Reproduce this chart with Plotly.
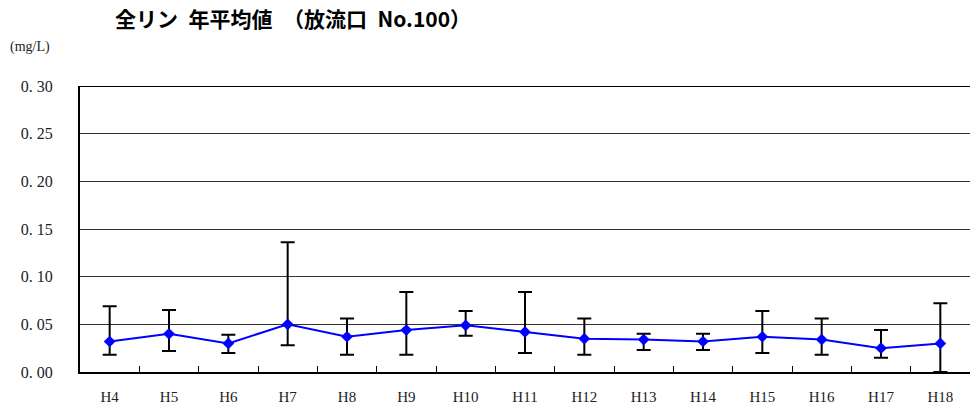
import plotly.graph_objects as go

years = ["H4", "H5", "H6", "H7", "H8", "H9", "H10", "H11", "H12", "H13", "H14", "H15", "H16", "H17", "H18"]
mean_vals = [0.032, 0.040, 0.030, 0.050, 0.037, 0.044, 0.049, 0.042, 0.035, 0.034, 0.032, 0.037, 0.034, 0.025, 0.030]
max_vals = [0.069, 0.065, 0.039, 0.136, 0.056, 0.084, 0.064, 0.084, 0.056, 0.040, 0.040, 0.064, 0.056, 0.044, 0.072]
min_vals = [0.018, 0.022, 0.020, 0.028, 0.018, 0.018, 0.038, 0.020, 0.018, 0.023, 0.023, 0.020, 0.018, 0.015, 0.000]
y_ticks = [0.00, 0.05, 0.10, 0.15, 0.20, 0.25, 0.30]
y_tick_labels = ["0.\u00a000", "0.\u00a005", "0.\u00a010", "0.\u00a015", "0.\u00a020", "0.\u00a025", "0.\u00a030"]

err_plus = [hi - m for hi, m in zip(max_vals, mean_vals)]
err_minus = [m - lo for m, lo in zip(mean_vals, min_vals)]

serif = "Liberation Serif"

W, H = 972, 412
ML, MR, MT, MB = 80, 2, 86, 40

fig = go.Figure()
fig.add_trace(go.Scatter(
    x=years, y=mean_vals, mode="lines+markers",
    line=dict(color="#0000ff", width=2),
    marker=dict(symbol="diamond", size=9, color="#0000ff"),
    error_y=dict(type="data", symmetric=False, array=err_plus, arrayminus=err_minus,
                 color="black", thickness=2, width=7),
    showlegend=False,
))

fig.update_layout(
    width=W, height=H,
    margin=dict(l=ML, r=MR, t=MT, b=MB),
    paper_bgcolor="white", plot_bgcolor="white",
    title=dict(text="全リン\u2002年平均値\u2002（放流口\u2002No.100）", x=115 / W, xanchor="left",
               y=1 - 20 / H, yanchor="middle",
               font=dict(family="Noto Sans CJK JP", size=21, color="black", weight="bold")),
    xaxis=dict(
        showline=True, linecolor="black", linewidth=2,
        ticks="inside", tickson="boundaries", ticklen=6, tickcolor="black", tickwidth=1,
        tickfont=dict(family=serif, size=15, color="#222"),
        ticklabelstandoff=10,
        showgrid=False, zeroline=False,
        range=[-0.5, 14.5],
    ),
    yaxis=dict(
        range=[0, 0.30], tickvals=y_ticks, ticktext=y_tick_labels,
        showline=True, linecolor="black", linewidth=2,
        showgrid=True, gridcolor="#333", gridwidth=1,
        zeroline=False, ticks="", ticklabelstandoff=22,
        tickfont=dict(family=serif, size=16, color="#222"),
    ),
    annotations=[dict(text="(mg/L)", x=(8 - ML) / (W - ML - MR), y=(H - MB - 47) / (H - MT - MB),
                      xref="paper", yref="paper",
                      xanchor="left", yanchor="middle", showarrow=False,
                      font=dict(family=serif, size=14, color="#222"))],
    shapes=[dict(type="line", xref="paper", yref="y", x0=0, x1=1, y0=0.30, y1=0.30,
                 line=dict(color="black", width=2))],
)

fig.write_html("out.html", config={"displayModeBar": False},
               post_script="document.body.style.margin='0';document.body.style.padding='0';")
